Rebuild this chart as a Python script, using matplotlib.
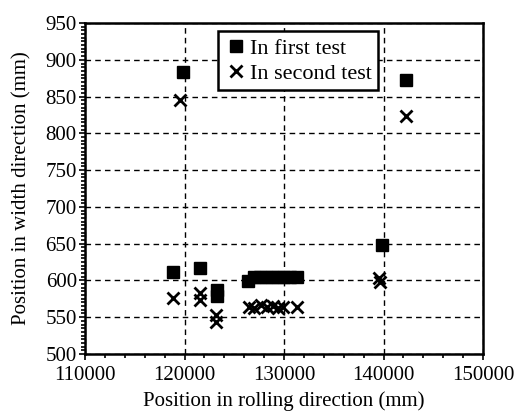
import matplotlib
matplotlib.use('Agg')
import matplotlib.pyplot as plt
import numpy as np
from matplotlib.ticker import MultipleLocator

plt.rcParams['font.family'] = ['Liberation Serif', 'DejaVu Serif']

# first test (squares)
first_x = [118800, 119800, 121500, 123300, 123300, 126400, 127000, 127600, 128200,
           128800, 129400, 130000, 130600, 131300, 139800, 142300]
first_y = [612, 883, 617, 587, 579, 599, 604, 604, 604,
           604, 604, 604, 604, 604, 648, 872]

# second test (crosses)
second_x = [118800, 119500, 121500, 121500, 123200, 123200, 126500, 127000, 127700, 128300,
            128900, 129400, 129900, 131300, 139500, 139600, 142300]
second_y = [576, 846, 583, 574, 553, 544, 564, 563, 566, 564,
            565, 563, 564, 564, 603, 598, 823]

fig = plt.figure(figsize=(5.16, 4.12), dpi=100)
ax = fig.add_axes([0.165, 0.141, 0.771, 0.803])

ax.plot(first_x, first_y, linestyle='none', marker='s', markersize=8.5,
        color='black', label='In first test', zorder=3)
ax.plot(second_x, second_y, linestyle='none', marker='x', markersize=8,
        markeredgewidth=2, color='black', label='In second test', zorder=3)

ax.set_xlim(110000, 150000)
ax.set_ylim(500, 950)
ax.xaxis.set_major_locator(MultipleLocator(10000))
ax.xaxis.set_minor_locator(MultipleLocator(2000))
ax.yaxis.set_major_locator(MultipleLocator(50))
ax.yaxis.set_minor_locator(MultipleLocator(5))
ax.tick_params(which='both', direction='out', width=1.2, colors='black', labelsize=15)
ax.tick_params(which='major', length=4)
ax.tick_params(which='minor', length=3)
ax.tick_params(axis='x', which='major', pad=5)
ax.tick_params(axis='y', which='major', pad=2)
ax.grid(True, which='major', color='black', linestyle=(0, (4, 3)), linewidth=1)
for s in ax.spines.values():
    s.set_linewidth(1.8)

ax.set_xlabel('Position in rolling direction (mm)', fontsize=15, labelpad=4)
ax.set_ylabel('Position in width direction (mm)', fontsize=15, labelpad=10)

leg = ax.legend(loc='upper left', bbox_to_anchor=(0.335, 0.975), fontsize=16,
                frameon=True, fancybox=False, handletextpad=0.1, borderpad=0.3,
                labelspacing=0.2, handlelength=1.0, borderaxespad=0,
                markerscale=1.0)
leg.get_frame().set_edgecolor('black')
leg.get_frame().set_linewidth(1.8)
leg.get_frame().set_alpha(1)

fig.savefig('out.png', dpi=100)
